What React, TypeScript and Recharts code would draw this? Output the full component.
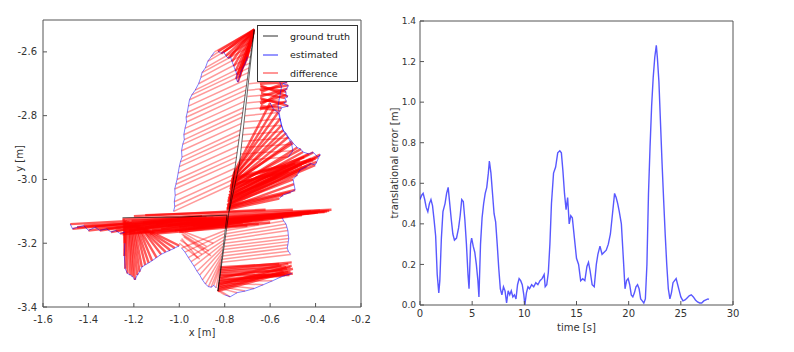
import React from 'react';
import {
  ScatterChart,
  Scatter,
  LineChart,
  Line,
  XAxis,
  YAxis,
  ReferenceLine,
  ReferenceArea,
  Legend,
} from 'recharts';

const FONT = 'DejaVu Sans, sans-serif';
const TEXT = '#333';
const FRAME = '#555';

// ---------- left panel: trajectories (x [m], y [m]) ----------
const xTicksLeft = [-1.6, -1.4, -1.2, -1.0, -0.8, -0.6, -0.4, -0.2];
const yTicksLeft = [-3.4, -3.2, -3.0, -2.8, -2.6];
const legendLabels = ['ground truth', 'estimated', 'difference'];

// ground truth walk [x, y]
const truthPath = [
  [-1.25, -3.12], [-1.0, -3.118], [-0.79, -3.112], [-0.83, -3.35],
  [-0.67, -2.53], [-0.735, -2.95], [-0.78, -3.1],
];

// difference pairs: [truthX, truthY, estX, estY]
const leftLobeDiff = [
  [-0.670, -2.530, -0.845, -2.600], [-0.670, -2.530, -0.860, -2.615],
  [-0.673, -2.545, -0.875, -2.630], [-0.677, -2.565, -0.885, -2.650],
  [-0.680, -2.580, -0.900, -2.665], [-0.683, -2.595, -0.905, -2.680],
  [-0.687, -2.615, -0.915, -2.700], [-0.690, -2.635, -0.930, -2.720],
  [-0.693, -2.650, -0.945, -2.735], [-0.696, -2.665, -0.955, -2.750],
  [-0.700, -2.685, -0.960, -2.770], [-0.704, -2.705, -0.965, -2.790],
  [-0.707, -2.720, -0.970, -2.805], [-0.710, -2.735, -0.968, -2.820],
  [-0.714, -2.755, -0.975, -2.840], [-0.718, -2.775, -0.980, -2.860],
  [-0.721, -2.790, -0.978, -2.875], [-0.724, -2.805, -0.985, -2.890],
  [-0.728, -2.825, -0.990, -2.910], [-0.731, -2.845, -0.988, -2.930],
  [-0.734, -2.860, -0.995, -2.945], [-0.737, -2.875, -1.000, -2.960],
  [-0.741, -2.895, -1.005, -2.980], [-0.745, -2.915, -1.010, -3.000],
  [-0.748, -2.930, -1.015, -3.015], [-0.751, -2.945, -1.020, -3.030],
  [-0.755, -2.965, -1.018, -3.050], [-0.759, -2.985, -1.022, -3.070],
  [-0.762, -3.000, -1.020, -3.085], [-0.765, -3.015, -1.025, -3.100],
];

const topFanDiff = [
  [-0.670, -2.530, -0.830, -2.598], [-0.671, -2.532, -0.815, -2.605],
  [-0.669, -2.529, -0.805, -2.600], [-0.672, -2.535, -0.795, -2.612],
  [-0.670, -2.531, -0.785, -2.620], [-0.673, -2.538, -0.775, -2.615],
  [-0.671, -2.533, -0.768, -2.630], [-0.674, -2.540, -0.760, -2.645],
  [-0.672, -2.536, -0.752, -2.660], [-0.675, -2.543, -0.745, -2.672],
  [-0.673, -2.539, -0.750, -2.685], [-0.676, -2.546, -0.742, -2.695],
  [-0.674, -2.541, -0.735, -2.680], [-0.677, -2.548, -0.728, -2.662],
  [-0.675, -2.544, -0.720, -2.650], [-0.678, -2.552, -0.712, -2.640],
  [-0.676, -2.547, -0.705, -2.628], [-0.679, -2.555, -0.700, -2.615],
];

const topBlockDiff = [
  [-0.645, -2.700, -0.525, -2.695], [-0.640, -2.725, -0.545, -2.700],
  [-0.646, -2.720, -0.520, -2.705], [-0.644, -2.740, -0.525, -2.715],
  [-0.641, -2.765, -0.538, -2.720], [-0.642, -2.710, -0.530, -2.725],
  [-0.645, -2.760, -0.530, -2.735], [-0.643, -2.705, -0.522, -2.740],
  [-0.640, -2.730, -0.535, -2.745], [-0.646, -2.780, -0.528, -2.755],
  [-0.641, -2.750, -0.540, -2.760], [-0.644, -2.745, -0.520, -2.770],
  [-0.642, -2.770, -0.550, -2.775], [-0.645, -2.775, -0.555, -2.785],
];

const rightUpperDiff = [
  [-0.693, -2.700, -0.560, -2.690], [-0.697, -2.720, -0.550, -2.710],
  [-0.700, -2.740, -0.555, -2.730], [-0.703, -2.760, -0.560, -2.750],
  [-0.707, -2.780, -0.565, -2.770], [-0.710, -2.800, -0.560, -2.790],
  [-0.713, -2.820, -0.556, -2.810], [-0.717, -2.840, -0.550, -2.830],
  [-0.720, -2.860, -0.540, -2.850], [-0.723, -2.880, -0.520, -2.870],
  [-0.727, -2.900, -0.505, -2.890], [-0.730, -2.920, -0.500, -2.910],
  [-0.733, -2.940, -0.520, -2.930],
];

const rightFanDiff = [
  [-0.760, -2.980, -0.600, -2.760], [-0.765, -2.990, -0.585, -2.780],
  [-0.762, -2.985, -0.565, -2.790], [-0.768, -3.000, -0.556, -2.810],
  [-0.766, -2.995, -0.550, -2.830], [-0.770, -3.010, -0.543, -2.845],
  [-0.772, -3.005, -0.530, -2.855], [-0.768, -3.015, -0.520, -2.867],
  [-0.774, -3.020, -0.505, -2.880], [-0.771, -3.012, -0.499, -2.886],
  [-0.776, -3.030, -0.480, -2.900], [-0.773, -3.025, -0.465, -2.905],
  [-0.778, -3.040, -0.455, -2.914], [-0.775, -3.035, -0.430, -2.920],
  [-0.780, -3.050, -0.410, -2.915], [-0.777, -3.045, -0.390, -2.930],
  [-0.782, -3.060, -0.380, -2.922], [-0.779, -3.055, -0.395, -2.945],
  [-0.784, -3.070, -0.402, -2.955], [-0.781, -3.065, -0.420, -2.950],
  [-0.786, -3.080, -0.440, -2.960], [-0.783, -3.075, -0.468, -2.970],
  [-0.788, -3.085, -0.480, -2.985], [-0.785, -3.078, -0.499, -3.000],
  [-0.790, -3.090, -0.495, -3.015], [-0.787, -3.083, -0.490, -3.033],
  [-0.789, -3.088, -0.510, -3.040], [-0.791, -3.092, -0.543, -3.049],
  [-0.792, -3.095, -0.560, -3.060],
];

const rightFanCoreDiff = [
  [-0.770, -3.000, -0.400, -2.935], [-0.775, -3.020, -0.410, -2.940],
  [-0.780, -3.040, -0.420, -2.935], [-0.785, -3.060, -0.440, -2.945],
  [-0.772, -3.010, -0.450, -2.930], [-0.778, -3.030, -0.460, -2.955],
  [-0.782, -3.050, -0.470, -2.940], [-0.788, -3.070, -0.480, -2.960],
  [-0.776, -3.025, -0.490, -2.950], [-0.783, -3.055, -0.500, -2.965],
  [-0.790, -3.080, -0.520, -2.975], [-0.768, -2.995, -0.530, -2.955],
  [-0.774, -3.015, -0.550, -2.980], [-0.786, -3.065, -0.570, -2.990],
];

const bandRightDiff = [
  [-1.250, -3.125, -0.330, -3.095], [-1.220, -3.160, -0.350, -3.100],
  [-1.200, -3.140, -0.380, -3.098], [-1.180, -3.165, -0.400, -3.105],
  [-1.150, -3.150, -0.420, -3.100], [-1.120, -3.160, -0.450, -3.108],
  [-1.100, -3.140, -0.480, -3.110], [-1.080, -3.155, -0.500, -3.105],
  [-1.050, -3.145, -0.520, -3.115], [-1.020, -3.160, -0.550, -3.110],
  [-1.000, -3.150, -0.580, -3.120], [-0.980, -3.140, -0.600, -3.115],
  [-0.960, -3.155, -0.630, -3.125], [-0.940, -3.145, -0.650, -3.120],
  [-0.920, -3.150, -0.680, -3.130], [-0.900, -3.140, -0.700, -3.125],
  [-0.880, -3.145, -0.720, -3.135], [-0.860, -3.135, -0.750, -3.130],
  [-1.240, -3.150, -0.340, -3.098], [-1.210, -3.130, -0.360, -3.102],
  [-1.190, -3.155, -0.390, -3.104], [-1.160, -3.135, -0.430, -3.106],
  [-1.130, -3.170, -0.460, -3.112], [-1.060, -3.130, -0.540, -3.118],
  [-1.250, -3.172, -0.600, -3.135], [-1.220, -3.168, -0.650, -3.140],
  [-1.200, -3.115, -0.620, -3.095], [-1.150, -3.112, -0.500, -3.095],
  [-1.100, -3.170, -0.700, -3.145], [-1.000, -3.165, -0.780, -3.145],
];

const bandLeftDiff = [
  [-0.950, -3.120, -1.480, -3.140], [-0.900, -3.115, -1.470, -3.155],
  [-0.850, -3.120, -1.450, -3.150], [-0.920, -3.125, -1.420, -3.145],
  [-0.880, -3.118, -1.400, -3.160], [-0.830, -3.125, -1.370, -3.150],
  [-0.970, -3.122, -1.350, -3.160], [-0.860, -3.130, -1.320, -3.155],
  [-0.940, -3.118, -1.300, -3.165], [-0.810, -3.128, -1.280, -3.160],
  [-0.990, -3.125, -1.260, -3.170], [-0.900, -3.130, -1.240, -3.165],
];

const lowerLeftDiff = [
  [-1.245, -3.125, -1.240, -3.200], [-1.240, -3.130, -1.242, -3.240],
  [-1.235, -3.128, -1.238, -3.280], [-1.230, -3.135, -1.228, -3.295],
  [-1.225, -3.130, -1.215, -3.300], [-1.220, -3.138, -1.205, -3.305],
  [-1.215, -3.132, -1.195, -3.315], [-1.210, -3.140, -1.185, -3.300],
  [-1.205, -3.136, -1.175, -3.290], [-1.200, -3.142, -1.165, -3.275],
  [-1.195, -3.140, -1.150, -3.268], [-1.190, -3.145, -1.135, -3.262],
  [-1.185, -3.142, -1.120, -3.255], [-1.180, -3.148, -1.100, -3.245],
  [-1.175, -3.146, -1.080, -3.235], [-1.170, -3.150, -1.060, -3.228],
  [-1.165, -3.150, -1.040, -3.222], [-1.160, -3.152, -1.020, -3.215],
  [-1.150, -3.155, -1.000, -3.208],
];

const lowerMidDiff = [
  [-0.799, -3.160, -0.990, -3.215], [-0.801, -3.170, -0.975, -3.228],
  [-0.803, -3.180, -0.960, -3.245], [-0.804, -3.190, -0.948, -3.258],
  [-0.806, -3.200, -0.935, -3.272], [-0.808, -3.210, -0.922, -3.288],
  [-0.810, -3.220, -0.910, -3.300], [-0.811, -3.230, -0.898, -3.315],
  [-0.813, -3.240, -0.885, -3.328], [-0.815, -3.250, -0.872, -3.336],
  [-0.817, -3.260, -0.860, -3.338], [-0.819, -3.270, -0.848, -3.332],
  [-0.821, -3.280, -0.838, -3.340],
];

const lowerMidCrossDiff = [
  [-1.000, -3.160, -0.880, -3.210], [-0.990, -3.170, -0.870, -3.225],
  [-0.980, -3.180, -0.860, -3.240], [-0.995, -3.190, -0.900, -3.235],
  [-1.000, -3.200, -0.910, -3.250], [-0.975, -3.165, -0.850, -3.200],
  [-0.985, -3.175, -0.890, -3.220], [-0.990, -3.185, -0.920, -3.245],
];

const rightLowerDiff = [
  [-0.791, -3.150, -0.548, -3.120], [-0.793, -3.160, -0.540, -3.130],
  [-0.795, -3.170, -0.530, -3.140], [-0.797, -3.180, -0.526, -3.150],
  [-0.799, -3.190, -0.522, -3.160], [-0.801, -3.200, -0.520, -3.175],
  [-0.803, -3.210, -0.518, -3.185], [-0.805, -3.220, -0.520, -3.195],
  [-0.807, -3.230, -0.522, -3.205], [-0.808, -3.240, -0.525, -3.215],
  [-0.810, -3.250, -0.520, -3.225], [-0.812, -3.260, -0.510, -3.235],
];

const bottomWedgeDiff = [
  [-0.830, -3.345, -0.500, -3.280], [-0.828, -3.330, -0.505, -3.270],
  [-0.826, -3.320, -0.510, -3.290], [-0.824, -3.310, -0.520, -3.265],
  [-0.822, -3.300, -0.515, -3.300], [-0.820, -3.290, -0.530, -3.275],
  [-0.818, -3.280, -0.505, -3.260], [-0.830, -3.340, -0.540, -3.290],
  [-0.827, -3.325, -0.500, -3.295], [-0.823, -3.305, -0.525, -3.280],
  [-0.819, -3.285, -0.550, -3.270], [-0.829, -3.335, -0.510, -3.275],
  [-0.825, -3.315, -0.535, -3.300], [-0.821, -3.295, -0.545, -3.285],
  [-0.817, -3.275, -0.560, -3.265], [-0.831, -3.350, -0.520, -3.290],
];

const bottomEdgeDiff = [
  [-0.832, -3.348, -0.800, -3.362], [-0.830, -3.345, -0.776, -3.368],
  [-0.828, -3.340, -0.745, -3.355], [-0.826, -3.335, -0.710, -3.350],
  [-0.824, -3.330, -0.670, -3.342], [-0.822, -3.325, -0.630, -3.330],
  [-0.820, -3.320, -0.590, -3.318], [-0.818, -3.315, -0.550, -3.305],
  [-0.816, -3.310, -0.505, -3.295],
];

// groups whose estimated side is drawn as a blue outline
const outlinedDiffs = [
  leftLobeDiff, topFanDiff, topBlockDiff, rightUpperDiff, rightFanDiff,
  bandLeftDiff, lowerLeftDiff, lowerMidDiff, rightLowerDiff, bottomEdgeDiff,
];
// sparse hatching vs. heavily overdrawn regions
const hatchDiffs = [
  leftLobeDiff, rightUpperDiff, lowerMidDiff, lowerMidCrossDiff, rightLowerDiff, bottomEdgeDiff,
];
const denseDiffs = [
  topFanDiff, topBlockDiff, rightFanDiff, rightFanCoreDiff, bandRightDiff,
  bandLeftDiff, lowerLeftDiff, bottomWedgeDiff,
];

// ---------- right panel: translational error over time ----------
const timeTicks = [0, 5, 10, 15, 20, 25, 30];
const errorTicks = [0, 0.2, 0.4, 0.6, 0.8, 1.0, 1.2, 1.4];
const errorTimes = [
  0, 0.15, 0.3, 0.45, 0.6, 0.75, 0.9, 1.05, 1.2, 1.35, 1.5, 1.65, 1.8, 1.9,
  2.05, 2.2, 2.4, 2.55, 2.7, 2.85, 3.0, 3.15, 3.3, 3.5, 3.7, 3.85, 4.0, 4.15,
  4.3, 4.45, 4.6, 4.7, 4.85, 4.95, 5.1, 5.25, 5.4, 5.55, 5.65, 5.8, 5.95, 6.1,
  6.25, 6.4, 6.55, 6.65, 6.8, 6.95, 7.1, 7.25, 7.4, 7.55, 7.7, 7.85, 8.0, 8.15,
  8.3, 8.45, 8.6, 8.75, 8.9, 9.05, 9.2, 9.35, 9.5, 9.65, 9.8, 9.95, 10.05, 10.2,
  10.35, 10.5, 10.7, 10.9, 11.1, 11.3, 11.5, 11.7, 11.9, 12.0, 12.15, 12.3,
  12.45, 12.6, 12.8, 13.0, 13.2, 13.4, 13.55, 13.7, 13.85, 14.0, 14.15, 14.3,
  14.45, 14.6, 14.8, 15.0, 15.2, 15.4, 15.6, 15.8, 16.0, 16.15, 16.3, 16.5,
  16.7, 16.9, 17.05, 17.25, 17.45, 17.65, 17.85, 18.05, 18.25, 18.45, 18.65,
  18.8, 18.95, 19.1, 19.3, 19.5, 19.65, 19.8, 19.95, 20.1, 20.25, 20.4, 20.55,
  20.7, 20.85, 21.0, 21.15, 21.3, 21.45, 21.6, 21.75, 21.9, 22.05, 22.2, 22.35,
  22.5, 22.65, 22.75, 22.9, 23.05, 23.2, 23.35, 23.5, 23.65, 23.8, 23.95, 24.1,
  24.25, 24.4, 24.55, 24.7, 24.85, 25.0, 25.2, 25.4, 25.6, 25.8, 26.0, 26.2,
  26.4, 26.6, 26.8, 27.0, 27.2, 27.4, 27.6, 27.7,
];
const errorValues = [
  0.52, 0.54, 0.55, 0.52, 0.48, 0.46, 0.5, 0.52, 0.49, 0.42, 0.34, 0.15, 0.06, 0.12,
  0.33, 0.46, 0.5, 0.55, 0.58, 0.5, 0.42, 0.35, 0.32, 0.33, 0.38, 0.44, 0.52, 0.51,
  0.42, 0.3, 0.15, 0.08, 0.3, 0.33, 0.29, 0.26, 0.2, 0.12, 0.04, 0.3, 0.43, 0.5,
  0.55, 0.58, 0.65, 0.71, 0.65, 0.55, 0.45, 0.41, 0.3, 0.18, 0.08, 0.05, 0.09, 0.07,
  0.01, 0.07, 0.05, 0.07, 0.04, 0.05, 0.03, 0.1, 0.13, 0.12, 0.1, 0.05, 0.0, 0.06,
  0.09, 0.08, 0.1, 0.09, 0.11, 0.1, 0.12, 0.13, 0.15, 0.09, 0.1, 0.16,
  0.3, 0.5, 0.65, 0.68, 0.75, 0.76, 0.75, 0.66, 0.55, 0.47, 0.53, 0.4,
  0.44, 0.43, 0.33, 0.23, 0.2, 0.12, 0.13, 0.12, 0.19, 0.21, 0.17, 0.1,
  0.09, 0.2, 0.25, 0.29, 0.25, 0.26, 0.27, 0.3, 0.35, 0.45, 0.55,
  0.53, 0.5, 0.46, 0.4, 0.22, 0.08, 0.12, 0.13, 0.1, 0.05, 0.04, 0.06,
  0.09, 0.1, 0.08, 0.03, 0.02, 0.01, 0.03, 0.2, 0.55, 0.78, 0.98, 1.12,
  1.22, 1.28, 1.22, 1.1, 0.9, 0.7, 0.52, 0.35, 0.2, 0.08, 0.03, 0.06,
  0.11, 0.12, 0.13, 0.1, 0.07, 0.04, 0.02, 0.025, 0.035, 0.045, 0.05, 0.04,
  0.025, 0.015, 0.01, 0.01, 0.02, 0.025, 0.03, 0.028,
];
const errorData = errorTimes.map((t, i) => ({ t, err: errorValues[i] }));

const truthPoints = truthPath.map(([x, y]) => ({ x, y }));
const estPoints = (pairs: number[][]) => pairs.map(([, , ex, ey]) => ({ x: ex, y: ey }));
const legendColors = ['#000000', '#0000ff', '#ff0000'];

const fmtSigned = (v: number) => v.toFixed(1);
const noShape = () => <g />;
const tickStyle = { fontSize: 10, fill: TEXT, fontFamily: FONT };

const VLabel = ({ viewBox, value, dx, dy = 0 }: any) => {
  const cx = viewBox.x + dx;
  const cy = viewBox.y + viewBox.height / 2 + dy;
  return (
    <text x={cx} y={cy} transform={`rotate(-90 ${cx} ${cy})`} textAnchor='middle'
      dominantBaseline='central' fontSize={10} fill={TEXT} fontFamily={FONT}>
      {value}
    </text>
  );
};

const HLabel = ({ viewBox, value, dy }: any) => (
  <text x={viewBox.x + viewBox.width / 2} y={viewBox.y + dy} textAnchor='middle'
    dominantBaseline='central' fontSize={10} fill={TEXT} fontFamily={FONT}>
    {value}
  </text>
);

const LegendBox = () => (
  <div style={{ width: '100%', height: '100%', boxSizing: 'border-box', background: '#fff',
    border: '1px solid #333', paddingTop: 1, fontFamily: FONT, fontSize: 9.5, color: '#222',
    whiteSpace: 'nowrap' }}>
    {legendLabels.map((label, i) => (
      <div key={label} style={{ display: 'flex', alignItems: 'center', height: 18.5 }}>
        <svg width={27} height={4} style={{ marginLeft: 5 }}>
          <line x1={0} y1={2} x2={15} y2={2} stroke={legendColors[i]} strokeOpacity={0.55} strokeWidth={1.5} />
        </svg>
        <span>{label}</span>
      </div>
    ))}
  </div>
);

const diffLines = (groups: number[][][], width: number, opacity: number, tag: string) =>
  groups.flat().map(([gx, gy, ex, ey], i) => (
    <ReferenceLine key={`${tag}-${i}`} segment={[{ x: gx, y: gy }, { x: ex, y: ey }]}
      stroke='#ff0000' strokeOpacity={opacity} strokeWidth={width} ifOverflow='visible' />
  ));

const TrajectoryChart = () => (
  <ScatterChart width={380} height={352} margin={{ top: 20, right: 19, bottom: 15, left: 0 }}>
    <XAxis type='number' dataKey='x' domain={[-1.6, -0.2]} ticks={xTicksLeft} tickFormatter={fmtSigned}
      height={30} tickSize={-4} tickMargin={13} axisLine={false} tickLine={{ stroke: FRAME }} tick={tickStyle}
      label={<HLabel value='x [m]' dy={25} />} allowDataOverflow />
    <XAxis xAxisId='top' orientation='top' type='number' domain={[-1.6, -0.2]} ticks={xTicksLeft}
      height={0} tickSize={-4} axisLine={false} tickLine={{ stroke: FRAME }} tick={false} allowDataOverflow />
    <YAxis type='number' dataKey='y' domain={[-3.4, -2.5]} ticks={yTicksLeft} tickFormatter={fmtSigned}
      width={43} tickSize={-4} tickMargin={10} axisLine={false} tickLine={{ stroke: FRAME }} tick={tickStyle}
      label={<VLabel value='y [m]' dx={19} dy={-5} />} allowDataOverflow />
    <YAxis yAxisId='right' orientation='right' type='number' domain={[-3.4, -2.5]} ticks={yTicksLeft}
      width={0} tickSize={-4} axisLine={false} tickLine={{ stroke: FRAME }} tick={false} allowDataOverflow />
    <Scatter data={truthPoints} line={{ stroke: '#000', strokeOpacity: 0.6, strokeWidth: 1 }} lineType='joint'
      shape={noShape} legendType='none' isAnimationActive={false} />
    {outlinedDiffs.map((pairs, i) => (
      <Scatter key={`est-${i}`} data={estPoints(pairs)} lineType='joint'
        line={{ stroke: '#0000ff', strokeOpacity: 0.5, strokeWidth: 1 }}
        shape={noShape} legendType='none' isAnimationActive={false} />
    ))}
    {diffLines(hatchDiffs, 1.5, 0.4, 'h')}
    {diffLines(denseDiffs, 2.4, 0.65, 'd')}
    <ReferenceArea x1={-1.6} x2={-0.2} y1={-3.4} y2={-2.5} fill='none' stroke={FRAME} strokeWidth={1} ifOverflow='visible' />
    <Legend content={() => <LegendBox />} layout='horizontal' verticalAlign='middle' align='center'
      wrapperStyle={{ position: 'absolute', left: 257, top: 25, width: 101, height: 57 }} />
  </ScatterChart>
);

const ErrorChart = () => (
  <LineChart width={414} height={352} data={errorData} margin={{ top: 21, right: 61, bottom: 17, left: 0 }}>
    <XAxis type='number' dataKey='t' domain={[0, 30]} ticks={timeTicks} height={30} tickSize={-4} tickMargin={9}
      axisLine={false} tickLine={{ stroke: FRAME }} tick={tickStyle}
      label={<HLabel value='time [s]' dy={22} />} allowDataOverflow />
    <XAxis xAxisId='top' orientation='top' type='number' dataKey='t' domain={[0, 30]} ticks={timeTicks}
      height={0} tickSize={-4} axisLine={false} tickLine={{ stroke: FRAME }} tick={false} allowDataOverflow />
    <YAxis type='number' domain={[0, 1.4]} ticks={errorTicks} tickFormatter={(v: number) => v.toFixed(1)}
      width={40} tickSize={-4} tickMargin={8} axisLine={false} tickLine={{ stroke: FRAME }}
      tick={{ ...tickStyle, fontSize: 9 }}
      label={<VLabel value='translational error [m]' dx={14} />} allowDataOverflow />
    <YAxis yAxisId='right' orientation='right' type='number' domain={[0, 1.4]} ticks={errorTicks}
      width={0} tickSize={-4} axisLine={false} tickLine={{ stroke: FRAME }} tick={false} allowDataOverflow />
    <ReferenceArea x1={0} x2={30} y1={0} y2={1.4} fill='none' stroke={FRAME} strokeWidth={1} ifOverflow='visible' />
    <Line type='linear' dataKey='err' stroke='#2020ff' strokeOpacity={0.75} strokeWidth={1.4}
      dot={false} activeDot={false} isAnimationActive={false} />
  </LineChart>
);

export default function App() {
  return (
    <div style={{ position: 'absolute', left: 0, top: 0, width: 794, height: 352, background: '#fff' }}>
      <div style={{ position: 'absolute', left: 0, top: 0 }}>
        <TrajectoryChart />
      </div>
      <div style={{ position: 'absolute', left: 380, top: 0 }}>
        <ErrorChart />
      </div>
    </div>
  );
}
